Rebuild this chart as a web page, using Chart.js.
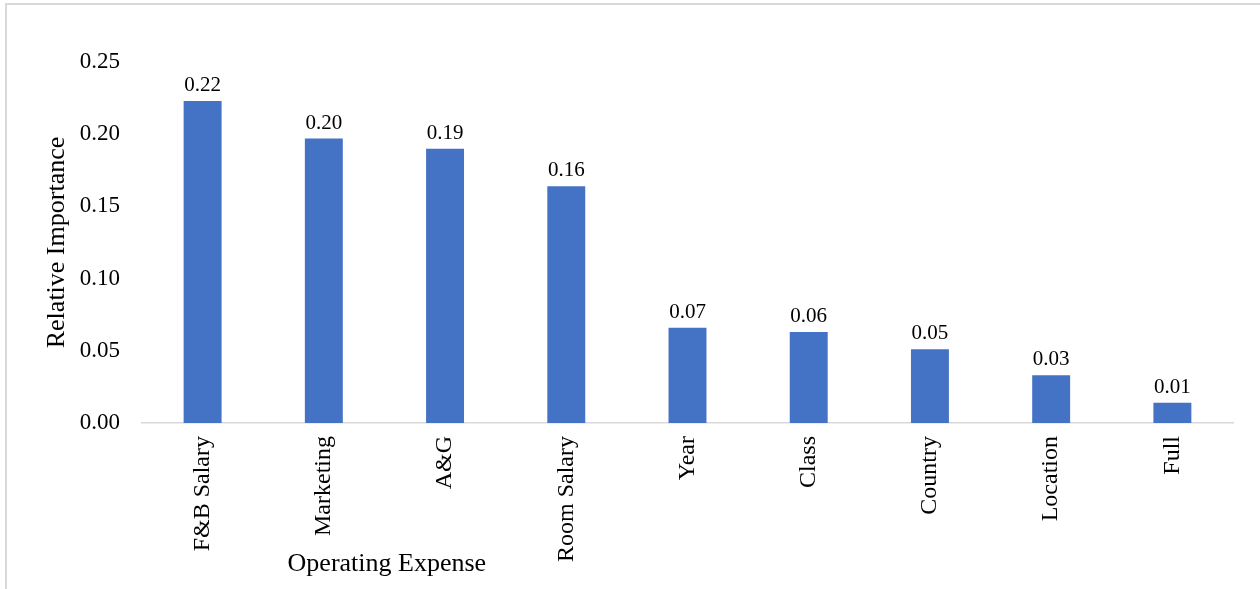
<!DOCTYPE html>
<html>
<head>
<meta charset="utf-8">
<script src="https://cdn.jsdelivr.net/npm/chart.js@4.4.1/dist/chart.umd.min.js"></script>
<style>
  html, body { margin: 0; padding: 0; background: #ffffff; overflow: hidden; }
  #frame {
    position: absolute; left: 5px; top: 3px; width: 1400px; height: 800px;
    border: 2px solid #d9d9d9; box-sizing: border-box;
  }
  #wrap { position: absolute; left: 0; top: 0; width: 1260px; height: 589px; }
</style>
</head>
<body>
<div id="frame"></div>
<div id="wrap"><canvas id="chart"></canvas></div>
<script>
// Relative importance of each operating expense variable
const categories = ["F&B Salary", "Marketing", "A&G", "Room Salary", "Year", "Class", "Country", "Location", "Full"];
const importance = [0.223, 0.197, 0.190, 0.164, 0.066, 0.063, 0.051, 0.033, 0.014];
const yTicks = [0, 0.05, 0.10, 0.15, 0.20, 0.25];

const FONT = "'Liberation Serif', 'Times New Roman', serif";
const BAR_COLOR = "#4472C4";

/** Etiquetas de valor acima de cada barra. */
const valueLabels = {
  id: "valueLabels",
  afterDatasetsDraw(chart) {
    const ctx = chart.ctx;
    const meta = chart.getDatasetMeta(0);
    ctx.save();
    ctx.font = "21px " + FONT;
    ctx.fillStyle = "#000000";
    ctx.textAlign = "center";
    ctx.textBaseline = "alphabetic";
    meta.data.forEach((bar, i) => {
      ctx.fillText(importance[i].toFixed(2), bar.x, bar.y - 10);
    });
    ctx.restore();
  }
};

/** Título do eixo X, deslocado para a esquerda como no original. */
const xTitle = {
  id: "xTitle",
  afterDraw(chart) {
    const ctx = chart.ctx;
    const x = chart.scales.x.getPixelForValue(1.52);
    ctx.save();
    ctx.font = "26px " + FONT;
    ctx.fillStyle = "#000000";
    ctx.textAlign = "center";
    ctx.textBaseline = "middle";
    ctx.fillText("Operating Expense", x, 564);
    ctx.restore();
  }
};

new Chart(document.getElementById("chart").getContext("2d"), {
  type: "bar",
  data: {
    labels: categories,
    datasets: [
      {
        label: "Relative Importance",
        data: importance,
        backgroundColor: BAR_COLOR,
        borderWidth: 0,
        barPercentage: 0.313,
        categoryPercentage: 1.0
      }
    ]
  },
  options: {
    responsive: true,
    maintainAspectRatio: false,
    devicePixelRatio: 1,
    animation: false,
    layout: {
      padding: { left: 0, right: 27, top: 62, bottom: 0 }
    },
    plugins: {
      legend: { display: false },
      tooltip: { enabled: false },
      title: { display: false }
    },
    scales: {
      x: {
        offset: true,
        afterFit: (scale) => {
          scale.height = 166;
        },
        grid: { display: false, drawTicks: false },
        border: { display: true, color: "#d9d9d9", width: 1.5 },
        ticks: {
          autoSkip: false,
          minRotation: 90,
          maxRotation: 90,
          padding: 13,
          color: "#000000",
          font: { family: FONT, size: 24 }
        }
      },
      y: {
        min: 0,
        max: 0.25,
        afterBuildTicks: (scale) => {
          scale.ticks = yTicks.map((v) => ({ value: v }));
        },
        afterFit: (scale) => {
          scale.width = 142;
        },
        grid: { display: false, drawTicks: false },
        border: { display: false },
        ticks: {
          padding: 22,
          color: "#000000",
          font: { family: FONT, size: 23 },
          callback: (value) => Number(value).toFixed(2)
        },
        title: {
          display: true,
          text: "Relative Importance",
          color: "#000000",
          font: { family: FONT, size: 26, lineHeight: 1.2 },
          padding: { top: 42, bottom: 0 }
        }
      }
    }
  },
  plugins: [valueLabels, xTitle]
});
</script>
</body>
</html>
